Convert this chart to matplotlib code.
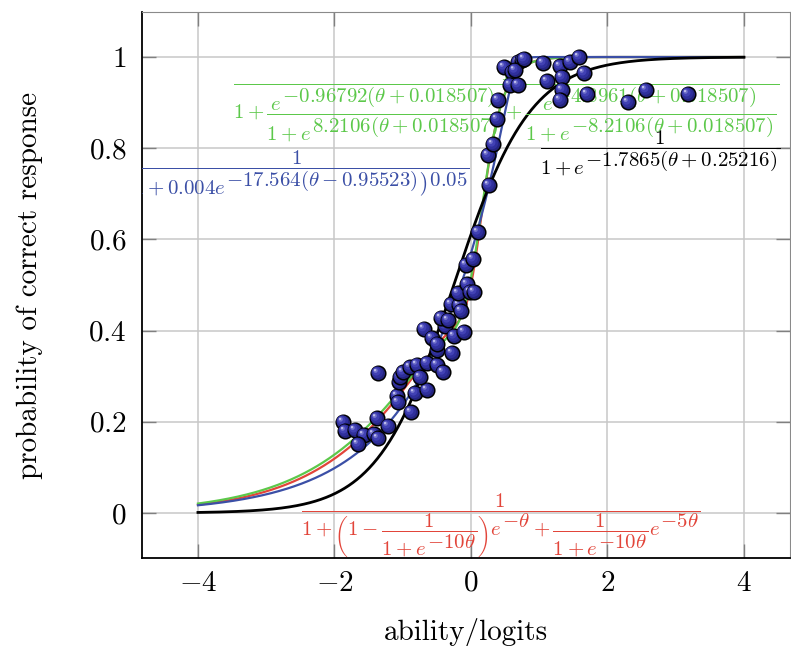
import numpy as np
import matplotlib
matplotlib.use("Agg")
import matplotlib.pyplot as plt
import matplotlib._mathtext as mathtext_internals
from matplotlib.transforms import offset_copy

plt.rcParams["font.family"] = "serif"
plt.rcParams["font.serif"] = ["cmr10"]
plt.rcParams["mathtext.fontset"] = "cm"
plt.rcParams["axes.formatter.use_mathtext"] = True
# the labels were typeset at \tiny, where scripts keep the base size
mathtext_internals.SHRINK_FACTOR = 1.0

obs_theta = [-1.875, -1.846, -1.700, -1.568, -1.656, -1.421, -1.363, -1.377, -1.216, -1.363,
             -1.084, -1.070, -0.879, -0.821, -0.645, -1.055, -1.040, -0.996, -0.894, -0.791,
             -0.747, -0.645, -0.498, -0.410, -0.498, -0.278, -0.689, -0.571, -0.498, -0.381,
             -0.440, -0.337, -0.293, -0.176, -0.147, -0.249, -0.103, -0.190, -0.059, -0.015,
             0.044, -0.073, 0.029, 0.103, 0.264, 0.249, 0.322, 0.381, 0.396, 0.484,
             0.601, 0.689, 0.747, 0.571, 0.689, 1.055, 1.304, 1.451, 1.582, 1.114,
             1.333, 1.656, 1.333, 1.304, 1.700, 2.300, 2.564, 3.179, 0.645, 0.777]
obs_prob = [0.200, 0.180, 0.182, 0.171, 0.151, 0.173, 0.164, 0.208, 0.191, 0.307,
            0.257, 0.243, 0.221, 0.263, 0.270, 0.287, 0.298, 0.309, 0.320, 0.325,
            0.298, 0.329, 0.325, 0.309, 0.357, 0.351, 0.404, 0.384, 0.371, 0.410,
            0.428, 0.423, 0.458, 0.456, 0.443, 0.388, 0.397, 0.482, 0.502, 0.485,
            0.485, 0.544, 0.557, 0.616, 0.719, 0.785, 0.809, 0.864, 0.906, 0.978,
            0.967, 0.989, 0.993, 0.939, 0.939, 0.987, 0.980, 0.989, 1.000, 0.947,
            0.956, 0.965, 0.928, 0.906, 0.919, 0.901, 0.928, 0.919, 0.971, 0.996]

# fitted model parameters, as printed on the chart
black_slope, black_shift = 1.7865, 0.25216
blue_scale, blue_slope, blue_shift, blue_power = 0.004, 17.564, 0.95523, 0.05
green_a1, green_a2, green_switch, green_shift = 0.96792, 4.8961, 8.2106, 0.018507
red_switch, red_a1, red_a2 = 10.0, 1.0, 5.0

xtick_vals = [-4, -2, 0, 2, 4]
xtick_labels = ["$-4$", "$-2$", "$0$", "$2$", "$4$"]
ytick_vals = [0, 0.2, 0.4, 0.6, 0.8, 1.0]
ytick_labels = ["$0$", "$0.2$", "$0.4$", "$0.6$", "$0.8$", "$1$"]

GREEN = "#5cc84a"
RED = "#e2453a"
BLUE = "#3b4fa6"

theta = np.linspace(-4, 4, 801)
p_black = 1 / (1 + np.exp(-black_slope * (theta + black_shift)))
p_blue = 1 / (1 + blue_scale * np.exp(-blue_slope * (theta - blue_shift))) ** blue_power
t = theta + green_shift
p_green = 1 / (1 + np.exp(-green_a1 * t) / (1 + np.exp(green_switch * t))
               + np.exp(-green_a2 * t) / (1 + np.exp(-green_switch * t)))
w = 1 / (1 + np.exp(-red_switch * theta))
p_red = 1 / (1 + (1 - w) * np.exp(-red_a1 * theta) + w * np.exp(-red_a2 * theta))

fig = plt.figure(figsize=(7.91, 6.46), dpi=100)
ax = fig.add_axes([0.1795, 0.1362, 0.8192, 0.8452])

ax.set_xlim(-4.82, 4.674)
ax.set_ylim(-0.0987, 1.0987)
ax.set_xticks(xtick_vals)
ax.set_xticklabels(xtick_labels)
ax.set_yticks(ytick_vals)
ax.set_yticklabels(ytick_labels)
ax.grid(True, color="#c8c8c8", lw=1.1)
ax.set_axisbelow(True)
ax.tick_params(direction="in", length=10, width=1, color="#808080",
               top=True, right=True, labelsize=21)
ax.tick_params(axis="y", pad=11)
ax.tick_params(axis="x", pad=9)
for side in ("top", "right"):
    ax.spines[side].set_color("#8a8a8a")
for side in ("left", "bottom"):
    ax.spines[side].set_linewidth(1.3)

ax.set_xlabel("ability/logits", fontsize=21, labelpad=15)
ax.set_ylabel("probability of correct response", fontsize=21, labelpad=33)

ax.plot(theta, p_red, color=RED, lw=1.6, zorder=3)
ax.plot(theta, p_green, color=GREEN, lw=1.6, zorder=3)
ax.plot(theta, p_blue, color=BLUE, lw=1.6, zorder=3)
ax.plot(theta, p_black, color="black", lw=2.0, zorder=3)


def fraction_label(x, y_bar, s, color, ha="center"):
    # baseline sits one math-axis height below the fraction bar
    tr = offset_copy(ax.transData, fig=fig, x=0, y=-3.8, units="points")
    ax.text(x, y_bar, s, color=color, fontsize=15, ha=ha, va="baseline",
            transform=tr, clip_on=True, zorder=4)


fraction_label(2.77, 0.803, r"$\dfrac{1}{1+e^{-1.7865(\theta+0.25216)}}$", "black")
fraction_label(-2.55, 0.759,
               r"$\dfrac{1}{\left(1+0.004e^{-17.564(\theta-0.95523)}\right)^{0.05}}$",
               BLUE)
fraction_label(0.44, 0.0066,
               r"$\dfrac{1}{1+\left(1-\dfrac{1}{1+e^{-10\theta}}\right)e^{-\theta}"
               r"+\dfrac{1}{1+e^{-10\theta}}e^{-5\theta}}$", RED)
fraction_label(-3.49, 0.945,
               r"$\dfrac{1}{1+\dfrac{e^{-0.96792(\theta+0.018507)}}{1+e^{8.2106(\theta+0.018507)}}"
               r"+\dfrac{e^{-4.8961(\theta+0.018507)}}{1+e^{-8.2106(\theta+0.018507)}}}$",
               GREEN, ha="left")

# shaded "ball" markers, drawn one at a time so overlaps look solid
layers = [(110, "#24247e", (0, 0)), (70, "#2f2f9c", (-0.5, 0.5)),
          (34, "#4141b4", (-1.1, 1.1)), (10, "#7373cc", (-1.7, 1.7)),
          (2.5, "#c4c4ee", (-2.1, 2.1))]
z = 5.0
for xv, yv in zip(obs_theta, obs_prob):
    for k, (s, col, (dx, dy)) in enumerate(layers):
        tr = offset_copy(ax.transData, fig=fig, x=dx, y=dy, units="points")
        ax.scatter([xv], [yv], s=s, color=col, transform=tr, zorder=z,
                   edgecolors="black" if k == 0 else "none",
                   linewidths=1.1 if k == 0 else 0)
        z += 0.001

fig.savefig("out.png", dpi=100)
